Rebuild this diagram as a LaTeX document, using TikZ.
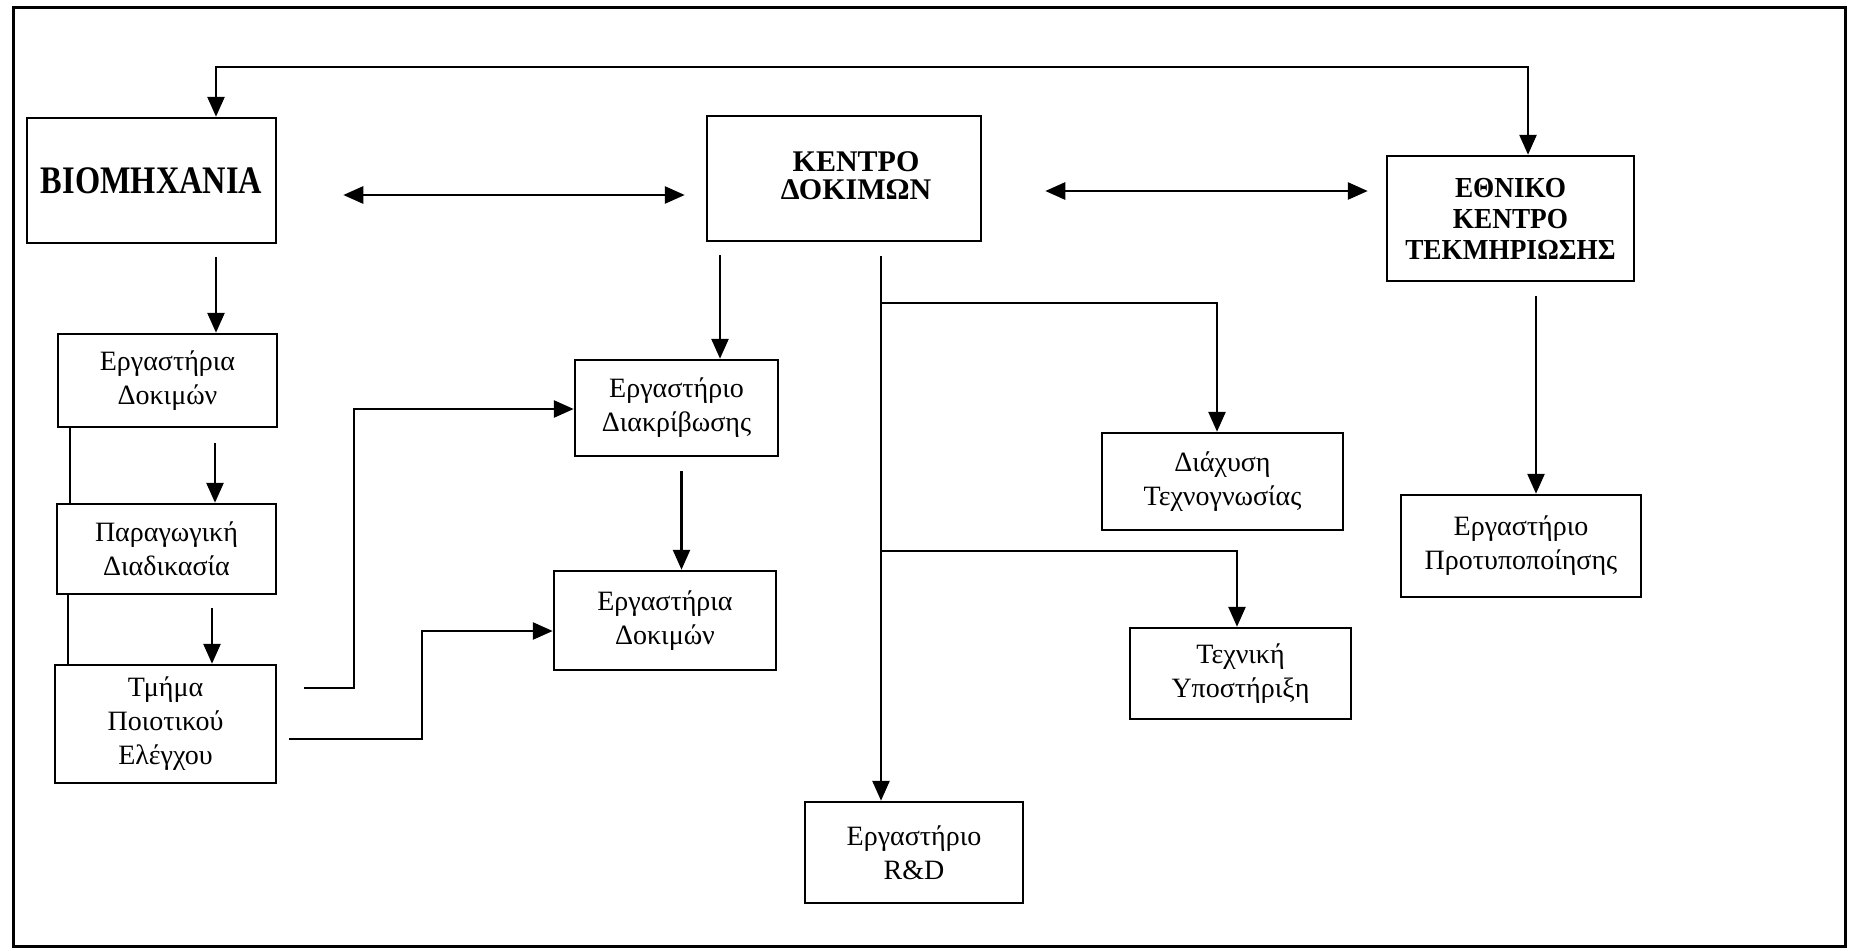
\documentclass[tikz,border=0pt]{standalone}
\usepackage{fontspec}
\setmainfont{Liberation Serif}
\newfontfamily\narrowbold{Liberation Serif}[FakeStretch=0.83]
\newfontfamily\slimbold{Liberation Serif}[FakeStretch=0.94]
\usetikzlibrary{arrows.meta}
\begin{document}
\begin{tikzpicture}[x=1pt,y=-1pt,
  box/.style={draw, line width=2.5pt, inner sep=0pt, align=center,
    font=\fontsize{28}{34}\selectfont},
  arr/.style={line width=2.7pt, -{Triangle[length=20pt,width=17pt]}},
  dbl/.style={line width=2.7pt, {Triangle[length=20pt,width=17pt]}-{Triangle[length=20pt,width=17pt]}},
  link/.style={line width=2.7pt}]
\useasboundingbox (0,0) rectangle (1849,950);
% outer frame
\draw[line width=3pt] (13,8) rectangle (1845,946);

% main blocks
\node[box, minimum width=249pt, minimum height=125pt,
  font=\narrowbold\bfseries\fontsize{39}{42}\selectfont] (bio) at (151.5,180.5) {ΒΙΟΜΗΧΑΝΙΑ};
\node[box, minimum width=274pt, minimum height=125pt] (kd) at (844,178.5) {};
\node[align=center, inner sep=0pt, font=\bfseries\fontsize{30}{28}\selectfont]
  (kdtxt) at (856,176) {ΚΕΝΤΡΟ\\ΔΟΚΙΜΩΝ};
\node[box, minimum width=247pt, minimum height=125pt,
  font=\slimbold\bfseries\fontsize{29}{31}\selectfont] (ek) at (1510.5,218.5) {ΕΘΝΙΚΟ\\ΚΕΝΤΡΟ\\ΤΕΚΜΗΡΙΩΣΗΣ};

% industry column
\node[box, minimum width=219pt, minimum height=93pt] (ergL) at (167.5,380.5) {Εργαστήρια\\Δοκιμών};
\node[box, minimum width=219pt, minimum height=90pt] (par) at (166.5,549) {Παραγωγική\\Διαδικασία};
\node[box, minimum width=221pt, minimum height=118pt] (tmh) at (165.5,724) {Τμήμα\\Ποιοτικού\\Ελέγχου};

% test centre column
\node[box, minimum width=203pt, minimum height=96pt] (diak) at (676.5,408) {Εργαστήριο\\Διακρίβωσης};
\node[box, minimum width=222pt, minimum height=99pt] (ergM) at (665,620.5) {Εργαστήρια\\Δοκιμών};
\node[box, minimum width=218pt, minimum height=101pt] (rd) at (914,852.5) {Εργαστήριο\\R\&D};
\node[box, minimum width=241pt, minimum height=97pt] (diax) at (1222.5,481.5) {Διάχυση\\Τεχνογνωσίας};
\node[box, minimum width=221pt, minimum height=91pt] (texn) at (1240.5,673.5) {Τεχνική\\Υποστήριξη};

% documentation centre column
\node[box, minimum width=240pt, minimum height=102pt] (prot) at (1521,546) {Εργαστήριο\\Προτυποποίησης};

% helper coordinates for connector positions
\coordinate (tl) at (216,67);
\coordinate (tr) at (1528,67);
\coordinate (m1) at (0,195);
\coordinate (m2) at (0,191);
\coordinate (xb) at (720,0);
\coordinate (xc) at (1536,0);
\coordinate (xd) at (215,0);
\coordinate (xe) at (212,0);
\coordinate (xf) at (681.5,0);
\coordinate (xg) at (70,0);
\coordinate (xh) at (68,0);
\coordinate (xt) at (881,0);
\coordinate (b1) at (881,303);
\coordinate (x1) at (1217,0);
\coordinate (b2) at (881,551);
\coordinate (x2) at (1237,0);
\coordinate (c1s) at (304,688);
\coordinate (c1a) at (354,409);
\coordinate (c2s) at (289,739);
\coordinate (c2a) at (422,631);

% top link between industry and documentation centre
\draw[dbl] (bio.north -| tl) -- (tl) -- (tr) -- (ek.north -| tr);
% horizontal two-way links
\draw[dbl, shorten <=66pt, shorten >=21pt] (bio.east |- m1) -- (kd.west |- m1);
\draw[dbl, shorten <=63pt, shorten >=18pt] (kd.east |- m2) -- (ek.west |- m2);

% downward flows
\draw[arr, shorten <=13pt] (bio.south -| tl) -- (ergL.north -| tl);
\draw[arr, shorten <=15pt] (ergL.south -| xd) -- (par.north -| xd);
\draw[arr, shorten <=13pt] (par.south -| xe) -- (tmh.north -| xe);
\draw[link] (ergL.south -| xg) -- (par.north -| xg);
\draw[link] (par.south -| xh) -- (tmh.north -| xh);
\draw[arr, shorten <=13pt] (kd.south -| xb) -- (diak.north -| xb);
\draw[arr, shorten <=14pt] (diak.south -| xf) -- (ergM.north -| xf);
\draw[arr, shorten <=14pt] (ek.south -| xc) -- (prot.north -| xc);

% branching trunk of the test centre
\draw[arr, shorten <=14pt] (kd.south -| xt) -- (rd.north -| xt);
\draw[arr] (b1) -| (diax.north -| x1);
\draw[arr] (b2) -| (texn.north -| x2);

% quality control feeds
\draw[arr] (c1s) -| (c1a) -- (c1a -| diak.west);
\draw[arr] (c2s) -| (c2a) -- (c2a -| ergM.west);
\end{tikzpicture}
\end{document}
